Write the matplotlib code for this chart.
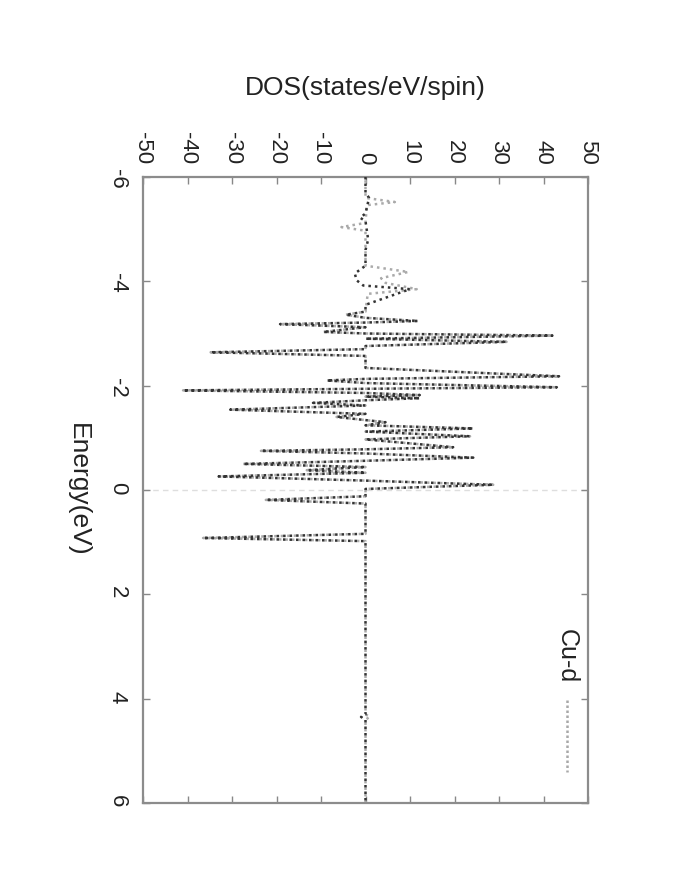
import matplotlib
matplotlib.use("Agg")
import matplotlib.pyplot as plt
from matplotlib.lines import Line2D

plt.rcParams['font.family'] = ['Liberation Sans', 'DejaVu Sans']

# ---- data (Energy in eV, DOS in states/eV/spin) ----
cud_energy = [-6.00, -5.60, -5.52, -5.46, -5.12, -5.04, -4.97, -4.30, -4.18, -4.06, -3.97,
              -3.85, -3.76, -3.42, -3.36, -3.30, -3.24, -3.21, -3.18, -3.12, -3.03, -3.00,
              -2.96, -2.90, -2.84, -2.76, -2.70, -2.64, -2.57, -2.34, -2.18, -2.13, -2.10,
              -2.05, -1.97, -1.94, -1.91, -1.86, -1.82, -1.79, -1.76, -1.72, -1.67, -1.62,
              -1.54, -1.46, -1.40, -1.34, -1.30, -1.24, -1.18, -1.12, -1.03, -0.97, -0.82,
              -0.78, -0.75, -0.70, -0.62, -0.56, -0.50, -0.44, -0.38, -0.33, -0.26, -0.18,
              -0.10, -0.02, 0.12, 0.19, 0.26, 0.84, 0.92, 0.98, 1.02, 4.30, 4.35, 4.40, 6.00]
cud_dos = [0.0, 0.0, 6.6, 0.3, 0.0, -5.4, 0.0, 0.0, 9.6, 3.5, 4.5,
           11.5, 0.5, 0.0, -4.4, 0.0, 11.8, 0.0, -19.2, 0.0, -9.5, 0.0,
           42.0, 0.0, 31.7, 0.0, 0.0, -34.8, 0.0, 0.0, 43.5, 0.0, -8.7,
           0.0, 43.0, 0.0, -41.0, 0.0, 12.2, 0.0, 12.2, 0.0, -11.8, 0.0,
           -30.4, 0.0, -6.5, 0.0, 4.5, 0.0, 24.2, 0.0, 23.5, 0.0, 19.7,
           0.0, -23.5, 0.0, 24.2, 0.0, -27.5, 0.0, -13.2, 0.0, -33.0, 0.0,
           28.7, 0.0, 0.0, -22.4, 0.0, 0.0, -36.5, 0.0, 0.0, 0.0, 1.0, 0.0, 0.0]

tot_energy = [-6.00, -5.70, -5.60, -5.30, -5.22, -5.15, -4.80, -4.60, -4.30, -4.15, -4.02,
              -3.92, -3.85, -3.55, -3.42, -3.36, -3.30, -3.24, -3.21, -3.18, -3.12, -3.03,
              -3.00, -2.96, -2.90, -2.84, -2.76, -2.70, -2.64, -2.57, -2.34, -2.18, -2.13,
              -2.10, -2.05, -1.97, -1.94, -1.91, -1.86, -1.82, -1.79, -1.76, -1.72, -1.67,
              -1.62, -1.54, -1.46, -1.40, -1.34, -1.30, -1.24, -1.18, -1.12, -1.03, -0.97,
              -0.82, -0.78, -0.75, -0.70, -0.62, -0.56, -0.50, -0.44, -0.38, -0.33, -0.26,
              -0.18, -0.10, -0.02, 0.12, 0.19, 0.26, 0.84, 0.92, 0.98, 4.30, 4.35, 4.40, 6.00]
tot_dos = [0.0, 0.0, 0.8, 0.0, -1.2, 0.0, 0.6, 0.0, 0.0, -2.4, -2.0,
           -0.5, 10.0, 0.0, 0.0, -4.4, 0.0, 11.8, 0.0, -19.2, 0.0, -9.5,
           0.0, 42.0, 0.0, 31.7, 0.0, 0.0, -34.8, 0.0, 0.0, 43.5, 0.0,
           -8.7, 0.0, 43.0, 0.0, -41.0, 0.0, 12.2, 0.0, 12.2, 0.0, -11.8,
           0.0, -30.4, 0.0, -6.5, 0.0, 4.5, 0.0, 24.2, 0.0, 23.5, 0.0,
           19.7, 0.0, -23.5, 0.0, 24.2, 0.0, -27.5, 0.0, -13.2, 0.0, -33.0,
           0.0, 28.7, 0.0, 0.0, -22.4, 0.0, 0.0, -36.5, 0.0, 0.0, -1.0, 0.0, 0.0]

dos_ticks = [-50, -40, -30, -20, -10, 0, 10, 20, 30, 40, 50]
energy_ticks = [-6, -4, -2, 0, 2, 4, 6]
fermi_level = 0.0
legend_label = "Cu-d"

# ---- figure ----
W, H = 675, 873
fig = plt.figure(figsize=(W / 100, H / 100), dpi=100)
ax = fig.add_axes([143 / W, 1 - 803 / H, 445 / W, 626 / H])

ax.axhline(fermi_level, color='#dedede', lw=1.0, ls=(0, (4, 3)), zorder=1)
ax.plot(tot_dos, tot_energy, color='#333333', lw=1.8, ls=(0, (1, 1.6)), zorder=3)
ax.plot(cud_dos, cud_energy, color='#aaaaaa', lw=1.8, ls=(1.3, (1, 1.6)), zorder=2)

ax.set_xlim(-50, 50)
ax.set_ylim(6, -6)
ax.set_xticks(dos_ticks)
ax.set_yticks(energy_ticks)
ax.xaxis.tick_top()
ax.tick_params(axis='both', direction='in', length=5, width=1, color='#888888',
               top=True, bottom=True, left=True, right=True, labelsize=16,
               labelcolor='#222222')
ax.tick_params(axis='x', pad=9)
ax.tick_params(axis='y', pad=11)
ax.set_xticklabels([str(v) for v in dos_ticks], rotation=-90)
ax.set_yticklabels([str(v) for v in energy_ticks], rotation=-90)
for s in ax.spines.values():
    s.set_color('#8c8c8c')
    s.set_linewidth(1.6)

fig.text(365 / W, 1 - 88 / H, "DOS(states/eV/spin)", ha='center', va='center',
         fontsize=19, color='#222222')
fig.text(78 / W, 1 - 490 / H, "Energy(eV)", ha='center', va='center',
         rotation=-90, fontsize=19, color='#222222')

# legend (rotated, like the reference)
ax.text(0.953, 0.235, legend_label, transform=ax.transAxes, rotation=-90,
        ha='center', va='center', fontsize=18, color='#222222')
ax.add_line(Line2D([0.953, 0.953], [0.165, 0.05], transform=ax.transAxes,
                   color='#a8a8a8', lw=1.8, ls=(0, (1, 1))))

fig.savefig("out.png", dpi=100)
